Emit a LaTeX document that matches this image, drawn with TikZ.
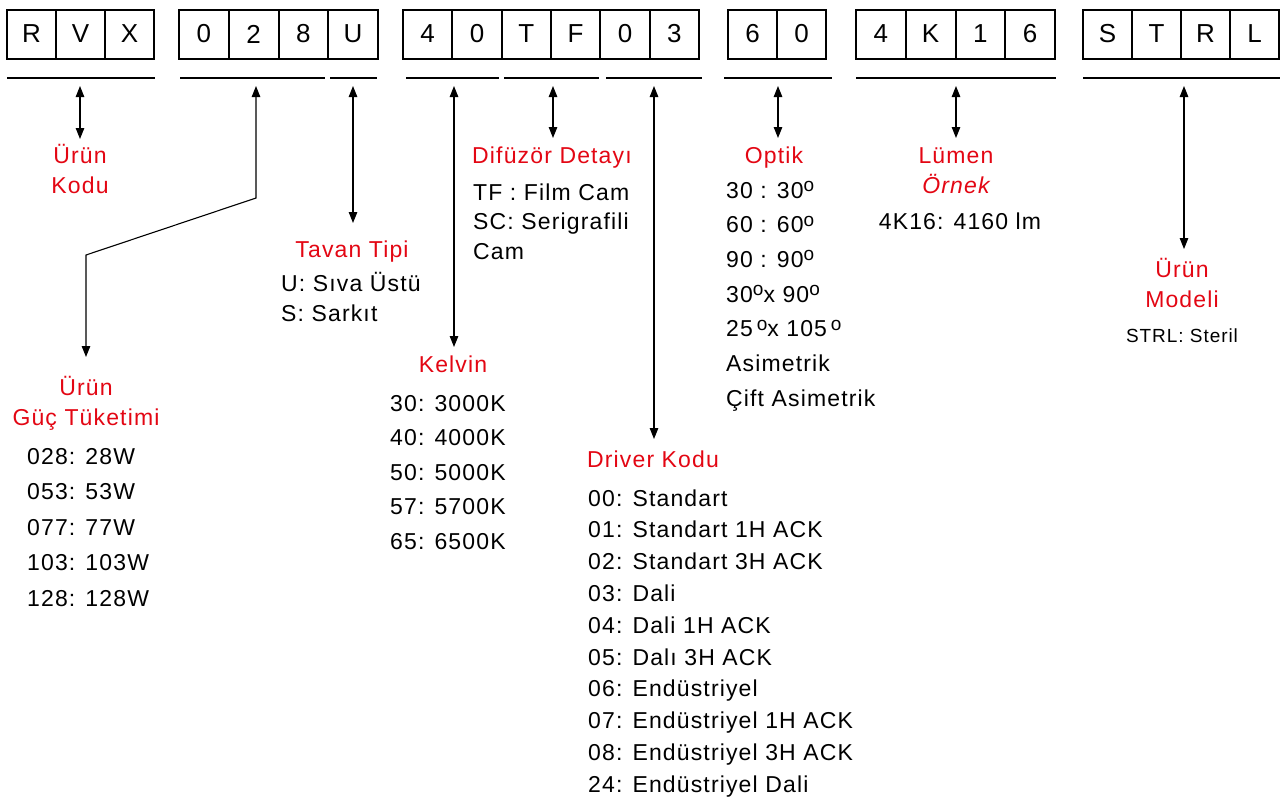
\documentclass[tikz,border=0pt]{standalone}
\usepackage{fontspec}
\setmainfont{Liberation Sans}[LetterSpace=5]
\usetikzlibrary{arrows.meta}
\definecolor{codered}{RGB}{227,6,19}
\newcommand\dgr{\raisebox{6.5pt}{\fontsize{19}{19}\selectfont o}}
\begin{document}
\begin{tikzpicture}[x=1pt,y=-1pt,
  cell/.style={draw,line width=2pt,minimum height=49pt,inner sep=0pt,outer sep=0pt,font=\fontsize{26}{26}\selectfont},
  uline/.style={line width=2.5pt},
  lbl/.style={text=codered,font=\fontsize{23}{26}\selectfont,inner sep=0pt,anchor=base},
  item/.style={font=\fontsize{23}{26}\selectfont,inner sep=0pt,anchor=base west},
  citem/.style={font=\fontsize{23}{26}\selectfont,inner sep=0pt,anchor=base},
  conn/.style={line width=1.1pt,{Triangle[length=11pt,width=8.5pt]}-{Triangle[length=11pt,width=8.5pt]}}]
\useasboundingbox (0,0) rectangle (1287,796);
% code boxes
\foreach \ch [count=\i] in {R,V,X}
  \node[cell,minimum width=49pt] (ga\i) at ({7+49*(\i-0.5)},34) {\ch};
\foreach \ch [count=\i] in {0,2,8,U}
  \node[cell,minimum width=49.75pt] (gb\i) at ({179+49.75*(\i-0.5)},34) {\ch};
\foreach \ch [count=\i] in {4,0,T,F,0,3}
  \node[cell,minimum width=49.33pt] (gc\i) at ({403+49.33*(\i-0.5)},34) {\ch};
\foreach \ch [count=\i] in {6,0}
  \node[cell,minimum width=49pt] (gd\i) at ({728+49*(\i-0.5)},34) {\ch};
\foreach \ch [count=\i] in {4,K,1,6}
  \node[cell,minimum width=49.75pt] (ge\i) at ({856+49.75*(\i-0.5)},34) {\ch};
\foreach \ch [count=\i] in {S,T,R,L}
  \node[cell,minimum width=49pt] (gf\i) at ({1083+49*(\i-0.5)},34) {\ch};
% underlines
\draw[uline] (7,78) -- (155,78);
\draw[uline] (180,78) -- (325,78);
\draw[uline] (330,78) -- (377,78);
\draw[uline] (406,78) -- (499,78);
\draw[uline] (504,78) -- (599,78);
\draw[uline] (606,78) -- (702,78);
\draw[uline] (724,78) -- (832,78);
\draw[uline] (856,78) -- (1056,78);
\draw[uline] (1083,78) -- (1280,78);
% arrow ends
\coordinate (kodT) at (80,86);   \coordinate (kodB) at (80,139);
\coordinate (gucT) at (256,86);  \coordinate (gucK1) at (256,198);
\coordinate (gucK2) at (86,255); \coordinate (gucB) at (86,357);
\coordinate (tavT) at (353,86);  \coordinate (tavB) at (353,223);
\coordinate (kelT) at (454,86);  \coordinate (kelB) at (454,347);
\coordinate (difT) at (553,86);  \coordinate (difB) at (553,138);
\coordinate (drvT) at (654,86);  \coordinate (drvB) at (654,439);
\coordinate (optT) at (778,86);  \coordinate (optB) at (778,138);
\coordinate (lumT) at (956,86);  \coordinate (lumB) at (956,138);
\coordinate (modT) at (1184,86); \coordinate (modB) at (1184,249);
\draw[conn] (kodT) -- (kodB);
\draw[conn] (gucT) -- (gucK1) -- (gucK2) -- (gucB);
\draw[conn] (tavT) -- (tavB);
\draw[conn] (kelT) -- (kelB);
\draw[conn] (difT) -- (difB);
\draw[conn] (drvT) -- (drvB);
\draw[conn] (optT) -- (optB);
\draw[conn] (lumT) -- (lumB);
\draw[conn] (modT) -- (modB);
% red labels
\node[lbl] (kod1) at (80,163) {Ürün};
\node[lbl] (kod2) at (80,193) {Kodu};
\node[lbl] (guc1) at (86,395) {Ürün};
\node[lbl] (guc2) at (86,425) {Güç Tüketimi};
\node[lbl] (tav) at (352,257) {Tavan Tipi};
\node[lbl] (dif) at (552,163) {Difüzör Detayı};
\node[lbl] (kel) at (453,372) {Kelvin};
\node[lbl] (opt) at (774,163) {Optik};
\node[lbl] (lum1) at (956,163) {Lümen};
\node[lbl,font=\fontsize{23}{26}\selectfont\itshape] (lum2) at (956,193) {Örnek};
\node[lbl] (drv) at (653,467) {Driver Kodu};
\node[lbl] (mod1) at (1182,277) {Ürün};
\node[lbl] (mod2) at (1182,307) {Modeli};
% lists
\foreach \t [count=\i] in {028: 28W,053: 53W,077: 77W,103: 103W,128: 128W}
  \node[item] (gucl\i) at (27,{464+35.5*(\i-1)}) {\t};
\foreach \t [count=\i] in {U: Sıva Üstü,S: Sarkıt}
  \node[item] (tavl\i) at (281,{291+30*(\i-1)}) {\t};
\foreach \t [count=\i] in {TF : Film Cam,SC: Serigrafili,Cam}
  \node[item] (difl\i) at (473,{200+29.5*(\i-1)}) {\t};
\foreach \t [count=\i] in {30: 3000K,40: 4000K,50: 5000K,57: 5700K,65: 6500K}
  \node[item] (kell\i) at (390,{411+34.5*(\i-1)}) {\t};
\foreach \t [count=\i] in {30 : 30\dgr,60 : 60\dgr,90 : 90\dgr,30\dgr x 90\dgr,25\,\dgr x 105\,\dgr,Asimetrik,Çift Asimetrik}
  \node[item] (optl\i) at (726,{198+34.7*(\i-1)}) {\t};
\node[citem] (luml) at (960,229) {4K16: 4160 lm};
\foreach \t [count=\i] in {00: Standart,01: Standart 1H ACK,02: Standart 3H ACK,03: Dali,04: Dali 1H ACK,05: Dalı 3H ACK,06: Endüstriyel,07: Endüstriyel 1H ACK,08: Endüstriyel 3H ACK,24: Endüstriyel Dali}
  \node[item] (drvl\i) at (588,{506+31.8*(\i-1)}) {\t};
\node[citem,font=\fontsize{19}{22}\selectfont] (modl) at (1182,342) {STRL: Steril};
\end{tikzpicture}
\end{document}
